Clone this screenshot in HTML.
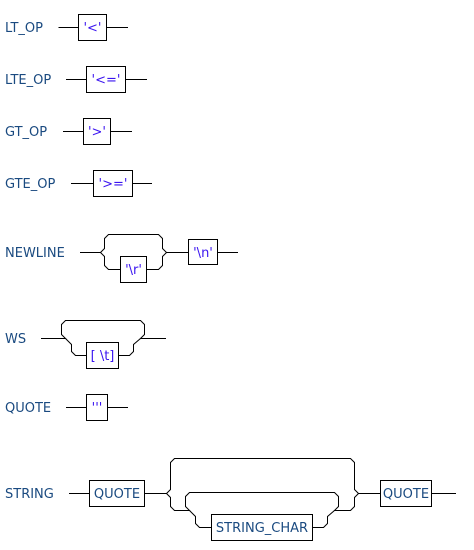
<!DOCTYPE html>
<html><head><style>
html,body{margin:0;padding:0;background:#fff;}
svg{display:block;}
.l{font-family:"DejaVu Sans","Liberation Sans",sans-serif;font-size:13px;fill:#1a4a80;}
.t{font-family:"DejaVu Sans","Liberation Sans",sans-serif;font-size:13px;fill:#3a14f0;}
path,line{stroke:#000;stroke-width:1;fill:none;}
rect{stroke:#000;stroke-width:1;fill:#fff;}
</style></head><body>
<svg width="474" height="550" viewBox="0 0 474 550">
<text class="l" x="5" y="32">LT_OP</text>
<path d="M58.5 27.5H78.5M106.5 27.5H128"/>
<rect x="78.5" y="14.5" width="28" height="26"/>
<text class="t" x="92.5" y="32" text-anchor="middle">'&lt;'</text>
<text class="l" x="5" y="84">LTE_OP</text>
<path d="M66 79.5H86.5M125.5 79.5H147"/>
<rect x="86.5" y="66.5" width="39" height="26"/>
<text class="t" x="106" y="84" text-anchor="middle">'&lt;='</text>
<text class="l" x="5" y="136">GT_OP</text>
<path d="M63 131.5H83.5M110.5 131.5H132"/>
<rect x="83.5" y="118.5" width="27" height="26"/>
<text class="t" x="97" y="136" text-anchor="middle">'&gt;'</text>
<text class="l" x="5" y="188">GTE_OP</text>
<path d="M71 183.5H93.5M132.5 183.5H152"/>
<rect x="93.5" y="170.5" width="39" height="26"/>
<text class="t" x="113" y="188" text-anchor="middle">'&gt;='</text>
<text class="l" x="5" y="257">NEWLINE</text>
<path d="M80 252.5H100.5L104.5 248.5V238.5L108.5 234.5H158.5L162.5 238.5V248.5L166.5 252.5H188.5"/>
<path d="M100.5 252.5L104.5 256.5V265.5L108.5 269.5H120.5M146.5 269.5H158.5L162.5 265.5V256.5L166.5 252.5"/>
<rect x="120.5" y="256.5" width="26" height="26"/>
<text class="t" x="133.5" y="274" text-anchor="middle">'\r'</text>
<rect x="188.5" y="239.5" width="29" height="25"/>
<text class="t" x="203" y="257" text-anchor="middle">'\n'</text>
<path d="M217.5 252.5H238"/>
<text class="l" x="5" y="343">WS</text>
<path d="M41 338.5H65.5L61.5 334.5V324.5L65.5 320.5H140.5L144.5 324.5V334.5L140.5 338.5H166"/>
<path d="M65.5 338.5L71.5 344.5V351.5L75.5 355.5H86.5M118.5 355.5H129.5L133.5 351.5V344.5L140.5 338.5"/>
<rect x="86.5" y="342.5" width="32" height="26"/>
<text class="t" x="102.5" y="360" text-anchor="middle">[ \t]</text>
<text class="l" x="5" y="412">QUOTE</text>
<path d="M66 407.5H86.5M107.5 407.5H128"/>
<rect x="86.5" y="394.5" width="21" height="26"/>
<text class="t" x="97" y="412" text-anchor="middle">'''</text>
<text class="l" x="5" y="498">STRING</text>
<path d="M69 493.5H89.5M144.5 493.5H166.5"/>
<rect x="89.5" y="480.5" width="55" height="26"/>
<text class="l" x="117" y="498" text-anchor="middle">QUOTE</text>
<path d="M166.5 493.5L170.5 489.5V462.5L174.5 458.5H350.5L354.5 462.5V489.5L358.5 493.5H380.5"/>
<path d="M166.5 493.5L170.5 497.5V506.5L174.5 510.5H189.5L185.5 506.5V496.5L189.5 492.5H334.5L338.5 496.5V506.5L334.5 510.5H350.5L354.5 506.5V497.5L358.5 493.5"/>
<path d="M189.5 510.5L195.5 516.5V523.5L199.5 527.5H211.5M312.5 527.5H323.5L327.5 523.5V516.5L334.5 510.5"/>
<rect x="211.5" y="514.5" width="101" height="26"/>
<text class="l" x="262" y="532" text-anchor="middle">STRING_CHAR</text>
<rect x="380.5" y="480.5" width="51" height="26"/>
<text class="l" x="406" y="498" text-anchor="middle">QUOTE</text>
<path d="M431.5 493.5H456"/>
</svg>
</body></html>
